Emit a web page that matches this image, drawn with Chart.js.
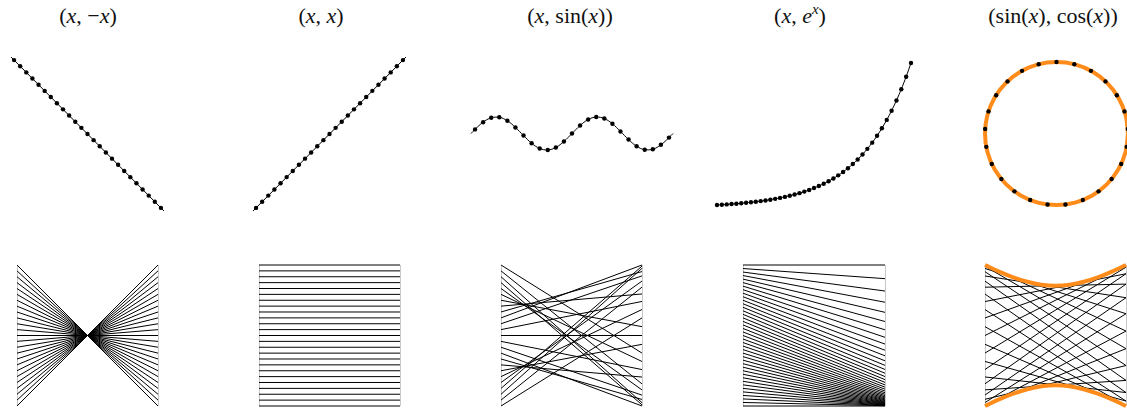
<!DOCTYPE html>
<html>
<head>
<meta charset="utf-8">
<script src="https://cdn.jsdelivr.net/npm/chart.js@4.4.0/dist/chart.umd.min.js"></script>
<style>
  body { margin: 0; width: 1127px; height: 410px; overflow: hidden; background: #fff; position: relative; }
  canvas { position: absolute; }
  .t { position: absolute; top: 4px; transform: translateX(-50%); font-family: "Liberation Serif", "DejaVu Serif", serif;
       font-size: 22px; line-height: 24px; color: #111; white-space: nowrap; }
  .t sup { font-size: 15px; vertical-align: 0; position: relative; top: -9px; }
</style>
</head>
<body>
<div class="t" style="left:88px">(<i>x</i>, −<i>x</i>)</div>
<div class="t" style="left:321px">(<i>x</i>, <i>x</i>)</div>
<div class="t" style="left:570px">(<i>x</i>, sin(<i>x</i>))</div>
<div class="t" style="left:800px">(<i>x</i>, <i>e</i><sup><i>x</i></sup>)</div>
<div class="t" style="left:1053px">(sin(<i>x</i>), cos(<i>x</i>))</div>

<canvas id="top1"></canvas>
<canvas id="top2"></canvas>
<canvas id="top3"></canvas>
<canvas id="top4"></canvas>
<canvas id="top5"></canvas>
<canvas id="bot1"></canvas>
<canvas id="bot2"></canvas>
<canvas id="bot3"></canvas>
<canvas id="bot4"></canvas>
<canvas id="bot5"></canvas>

<script>
// 25 samples, middle of 25 equal steps over [0, 4pi]
var xs = [0.251, 0.754, 1.257, 1.759, 2.262, 2.765, 3.267, 3.770, 4.273, 4.775, 5.278, 5.781, 6.283,
          6.786, 7.288, 7.791, 8.294, 8.796, 9.299, 9.802, 10.304, 10.807, 11.310, 11.812, 12.315];
var negXs = [-0.251, -0.754, -1.257, -1.759, -2.262, -2.765, -3.267, -3.770, -4.273, -4.775, -5.278, -5.781, -6.283,
             -6.786, -7.288, -7.791, -8.294, -8.796, -9.299, -9.802, -10.304, -10.807, -11.310, -11.812, -12.315];
var sinX = [0.249, 0.685, 0.951, 0.982, 0.771, 0.368, -0.125, -0.588, -0.905, -0.998, -0.844, -0.482, 0.000,
            0.482, 0.844, 0.998, 0.905, 0.588, 0.125, -0.368, -0.771, -0.982, -0.951, -0.685, -0.249];
var cosX = [0.969, 0.729, 0.309, -0.187, -0.637, -0.930, -0.992, -0.809, -0.426, 0.063, 0.536, 0.876, 1.000,
            0.876, 0.536, 0.063, -0.426, -0.809, -0.992, -0.930, -0.637, -0.187, 0.309, 0.729, 0.969];

// the line under the dots runs over the whole [0, 4pi]
var lineX = [0, 12.566];
var lineNegY = [0, -12.566];

// exp panel has its own 41 samples
var expX = [-2.0, -1.9, -1.8, -1.7, -1.6, -1.5, -1.4, -1.3, -1.2, -1.1, -1.0, -0.9, -0.8, -0.7, -0.6, -0.5, -0.4,
            -0.3, -0.2, -0.1, 0.0, 0.1, 0.2, 0.3, 0.4, 0.5, 0.6, 0.7, 0.8, 0.9, 1.0, 1.1, 1.2, 1.3, 1.4, 1.5,
            1.6, 1.7, 1.8, 1.9, 2.0];
var expY = [0.135, 0.150, 0.165, 0.183, 0.202, 0.223, 0.247, 0.273, 0.301, 0.333, 0.368, 0.407, 0.449, 0.497,
            0.549, 0.607, 0.670, 0.741, 0.819, 0.905, 1.000, 1.105, 1.221, 1.350, 1.492, 1.649, 1.822, 2.014,
            2.226, 2.460, 2.718, 3.004, 3.320, 3.669, 4.055, 4.482, 4.953, 5.474, 6.050, 6.686, 7.389];

// orange ring (full curve) and its envelope in the parallel view
var ringX = [1, 0.966, 0.866, 0.707, 0.5, 0.259, 0, -0.259, -0.5, -0.707, -0.866, -0.966, -1,
             -0.966, -0.866, -0.707, -0.5, -0.259, 0, 0.259, 0.5, 0.707, 0.866, 0.966, 1];
var ringY = [0, 0.259, 0.5, 0.707, 0.866, 0.966, 1, 0.966, 0.866, 0.707, 0.5, 0.259, 0,
             -0.259, -0.5, -0.707, -0.866, -0.966, -1, -0.966, -0.866, -0.707, -0.5, -0.259, 0];
var envU = [0, 0.1, 0.2, 0.3, 0.4, 0.5, 0.6, 0.7, 0.8, 0.9, 1];
var envTop = [1.000, 0.906, 0.825, 0.762, 0.721, 0.707, 0.721, 0.762, 0.825, 0.906, 1.000];
var envBottom = [-1.000, -0.906, -0.825, -0.762, -0.721, -0.707, -0.721, -0.762, -0.825, -0.906, -1.000];

var ORANGE = '#ff8c1a';
var PAD = 8;

function pts(xa, ya) {
  return xa.map(function (v, i) { return { x: v, y: ya[i] }; });
}

function place(id, box) {
  var c = document.getElementById(id);
  c.width = box.w + 2 * PAD;
  c.height = box.h + 2 * PAD;
  c.style.left = (box.l - PAD) + 'px';
  c.style.top = (box.t - PAD) + 'px';
}

function opts(xr, yr, axes) {
  return {
    responsive: false,
    animation: false,
    events: [],
    layout: { padding: PAD },
    plugins: { legend: { display: false }, tooltip: { enabled: false } },
    scales: {
      x: {
        type: 'linear', min: xr[0], max: xr[1], display: axes,
        ticks: { display: false, stepSize: 1 },
        grid: { color: '#c8c8c8', lineWidth: 1, drawTicks: false },
        border: { display: false }
      },
      y: { type: 'linear', min: yr[0], max: yr[1], display: false }
    }
  };
}

function curve(data, color, width, tension, order) {
  return { data: data, borderColor: color, borderWidth: width, pointRadius: 0, tension: tension,
           fill: false, clip: false, order: order };
}

function dots(data) {
  return { data: data, showLine: false, pointRadius: 2.2, pointBackgroundColor: '#000',
           pointBorderWidth: 0, clip: false, order: 0 };
}

function topChart(id, box, xr, yr, datasets) {
  place(id, box);
  new Chart(id, { type: 'line', data: { datasets: datasets }, options: opts(xr, yr, false) });
}

function range(a) {
  return [Math.min.apply(null, a), Math.max.apply(null, a)];
}

// parallel coordinates: left axis = first value, right axis = second value
function parallelChart(id, box, left, right, lr, rr, extra) {
  place(id, box);
  var sets = left.map(function (a, i) {
    return curve([{ x: 0, y: (a - lr[0]) / (lr[1] - lr[0]) },
                  { x: 1, y: (right[i] - rr[0]) / (rr[1] - rr[0]) }], '#000', 1, 0, 1);
  });
  new Chart(id, { type: 'line', data: { datasets: sets.concat(extra || []) }, options: opts([0, 1], [0, 1], true) });
}

// top row
topChart('top1', { l: 11, t: 57, w: 153, h: 154 }, [0, 12.566], [-12.566, 0], [
  dots(pts(xs, negXs)), curve(pts(lineX, lineNegY), '#000', 1, 0, 1)
]);
topChart('top2', { l: 253, t: 57, w: 153, h: 154 }, [0, 12.566], [0, 12.566], [
  dots(pts(xs, xs)), curve(pts(lineX, lineX), '#000', 1, 0, 1)
]);
topChart('top3', { l: 471, t: 117, w: 202, h: 33 }, [0, 12.566], [-1, 1], [
  dots(pts(xs, sinX)),
  curve(pts([lineX[0]].concat(xs, [lineX[1]]), [0].concat(sinX, [0])), '#000', 1, 0.4, 1)
]);
topChart('top4', { l: 717, t: 63, w: 194, h: 142 }, [-2, 2], [0.135, 7.389], [
  dots(pts(expX, expY)), curve(pts(expX, expY), '#000', 1, 0.2, 1)
]);
topChart('top5', { l: 985, t: 62, w: 143, h: 143 }, [-1, 1], [-1, 1], [
  dots(pts(sinX, cosX)), curve(pts(ringX, ringY), ORANGE, 4, 0.4, 2)
]);

// bottom row
parallelChart('bot1', { l: 17, t: 265, w: 141, h: 141 }, xs, negXs, range(xs), range(negXs));
parallelChart('bot2', { l: 259, t: 265, w: 141, h: 141 }, xs, xs, range(xs), range(xs));
parallelChart('bot3', { l: 501, t: 265, w: 141, h: 141 }, xs, sinX, range(xs), range(sinX));
parallelChart('bot4', { l: 743, t: 265, w: 142, h: 141 }, expX, expY, range(expX), range(expY));
parallelChart('bot5', { l: 985, t: 265, w: 141, h: 141 }, sinX, cosX, [-1, 1], [-1, 1], [
  curve(pts(envU, envTop.map(function (v) { return (v + 1) / 2; })), ORANGE, 4, 0.4, 0),
  curve(pts(envU, envBottom.map(function (v) { return (v + 1) / 2; })), ORANGE, 4, 0.4, 0)
]);
</script>
</body>
</html>
